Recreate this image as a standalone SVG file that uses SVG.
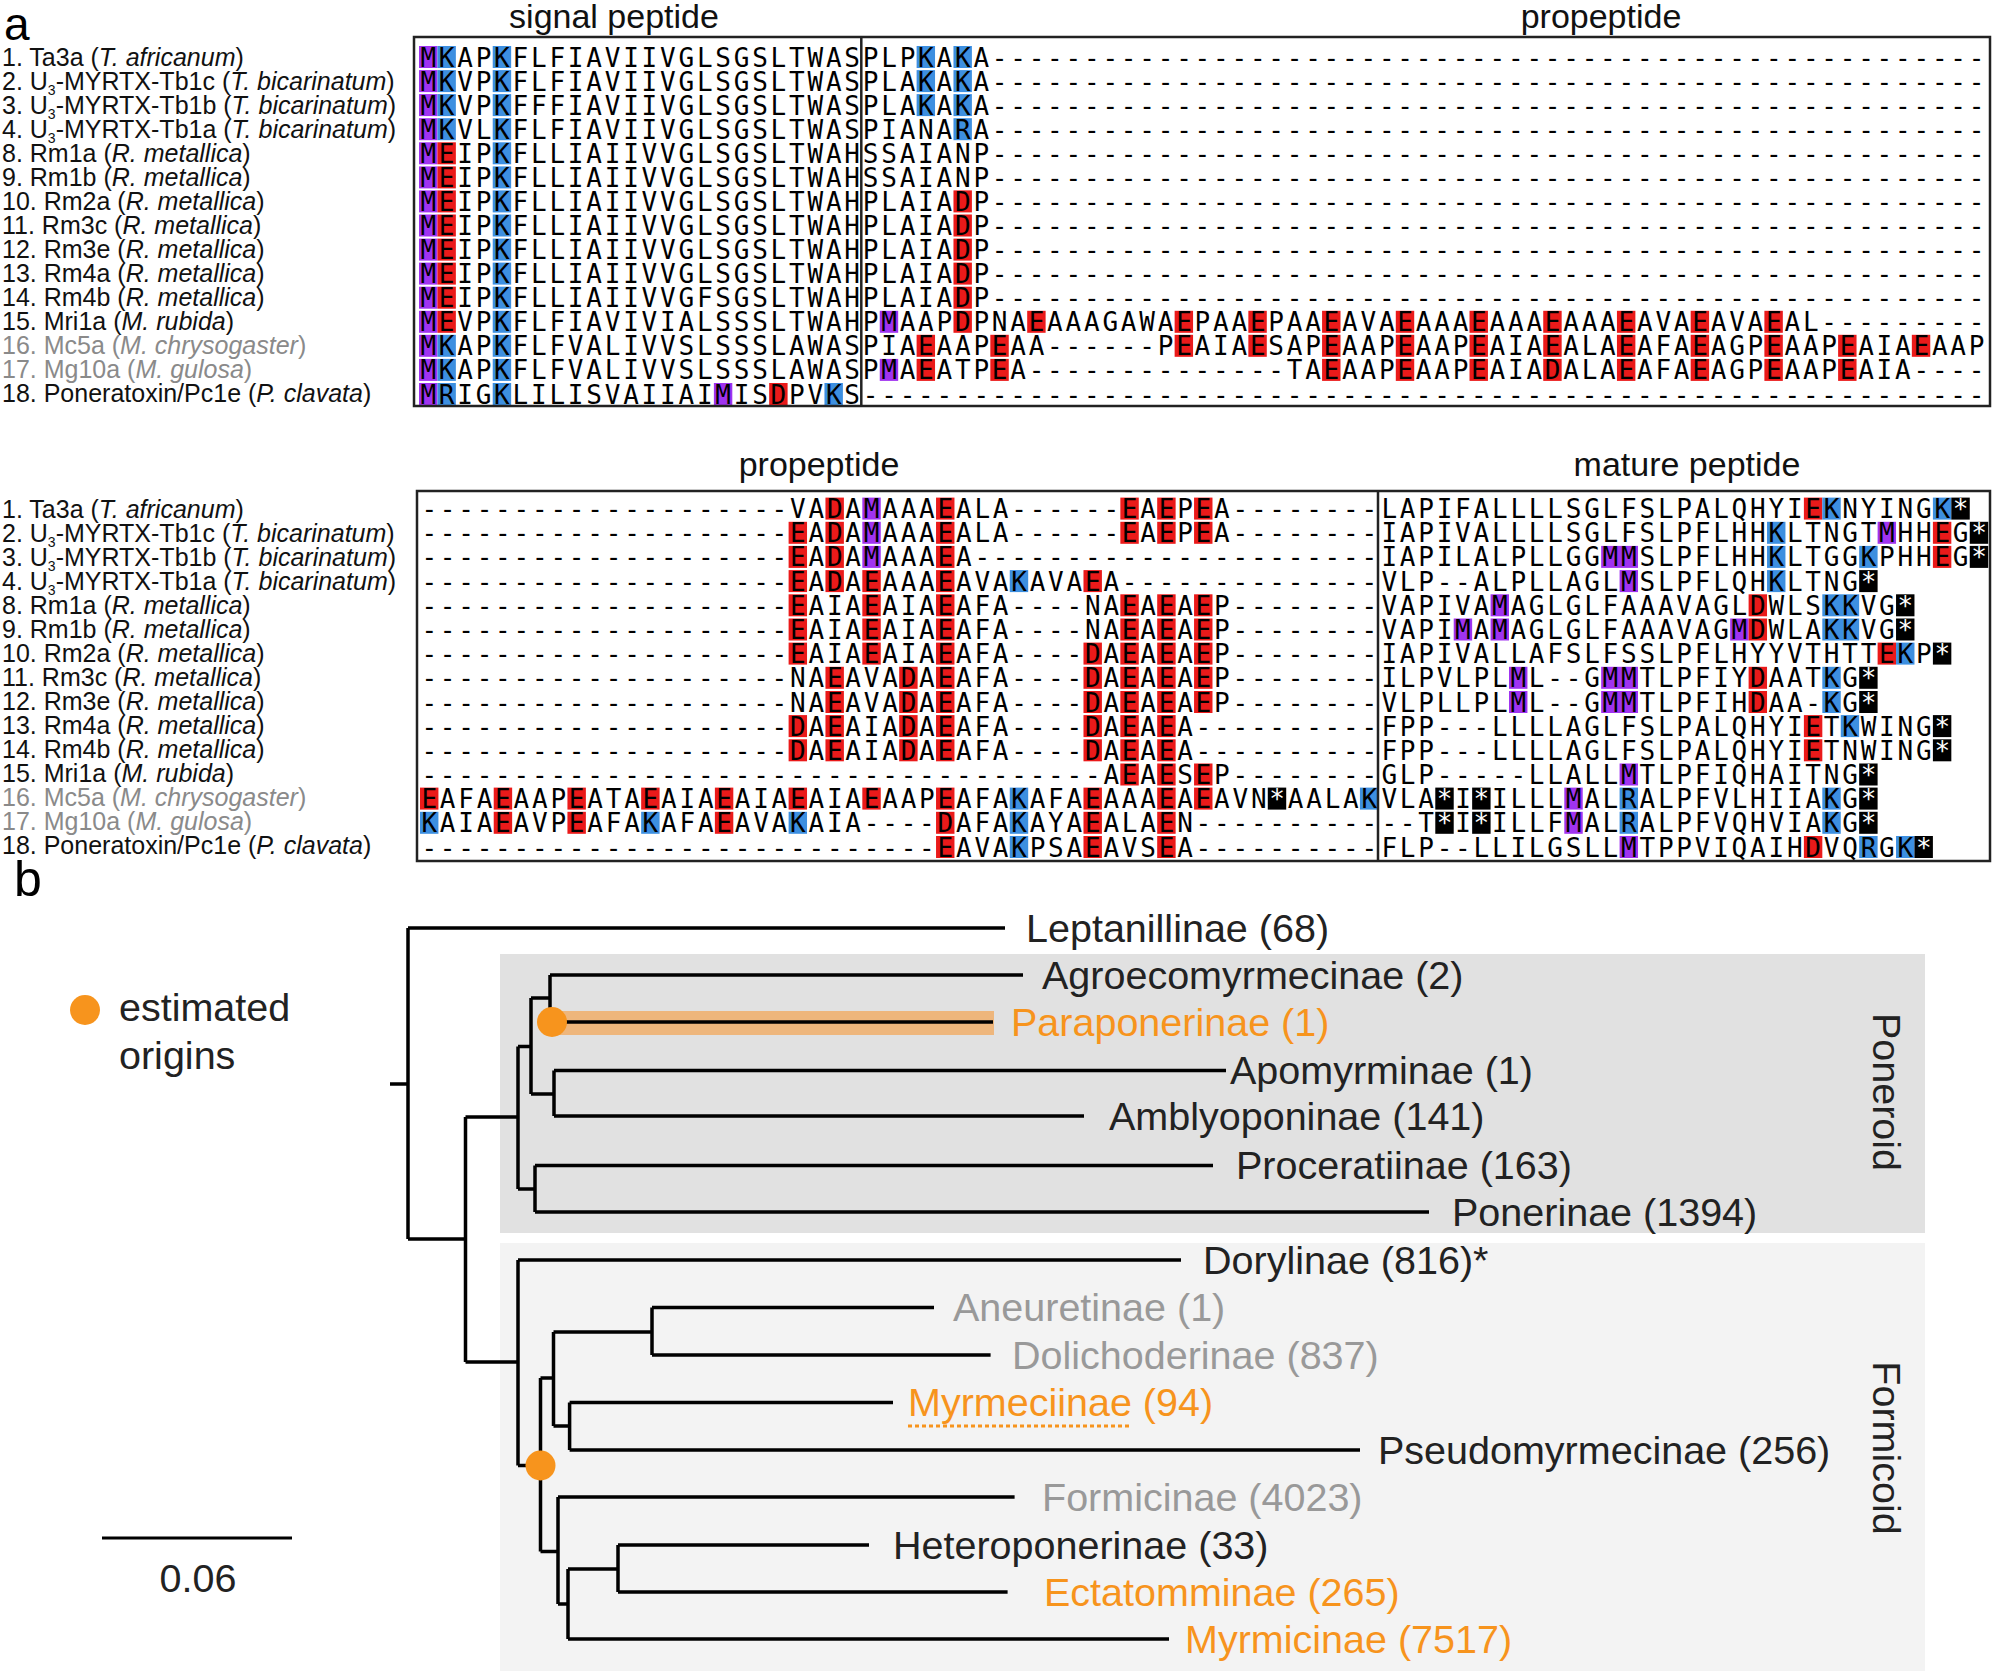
<svg xmlns="http://www.w3.org/2000/svg" width="1992" height="1671" viewBox="0 0 1992 1671">
<style>
.lab{font-family:"Liberation Sans",Arial,sans-serif;font-size:25px;fill:#111}
.gl{fill:#8a8a8a}
.hd{font-family:"Liberation Sans",Arial,sans-serif;font-size:34px;fill:#111;text-anchor:middle}
.sq{font-family:"DejaVu Sans Mono",monospace;font-size:26px;letter-spacing:2.78px;fill:#000}
.p{fill:#a033f0}.b{fill:#3d8fe0}.r{fill:#ea1a1a}.k{fill:#000}
.box{fill:none;stroke:#222;stroke-width:2.5}
.tl{font-family:"Liberation Sans",Arial,sans-serif;font-size:39.5px;fill:#222}
.gr{fill:#999}.or{fill:#f7941d}
.br{fill:none;stroke:#000;stroke-width:3.5}
</style>
<text x="4" y="40" font-family="Liberation Sans,Arial,sans-serif" font-size="46" fill="#000">a</text>
<text x="14" y="896" font-family="Liberation Sans,Arial,sans-serif" font-size="50" fill="#000">b</text>
<text class="hd" x="614" y="28">signal peptide</text>
<text class="hd" x="1601" y="28">propeptide</text>
<text class="hd" x="819" y="476">propeptide</text>
<text class="hd" x="1687" y="476">mature peptide</text>

<g id="labels-top">
<text class="lab" x="2" y="66">1. Ta3a (<tspan font-style="italic">T. africanum</tspan>)</text>
<text class="lab" x="2" y="90">2. U<tspan font-size="14" dy="5">3</tspan><tspan dy="-5">-MYRTX-Tb1c (</tspan><tspan font-style="italic">T. bicarinatum</tspan>)</text>
<text class="lab" x="2" y="114">3. U<tspan font-size="14" dy="5">3</tspan><tspan dy="-5">-MYRTX-Tb1b (</tspan><tspan font-style="italic">T. bicarinatum</tspan>)</text>
<text class="lab" x="2" y="138">4. U<tspan font-size="14" dy="5">3</tspan><tspan dy="-5">-MYRTX-Tb1a (</tspan><tspan font-style="italic">T. bicarinatum</tspan>)</text>
<text class="lab" x="2" y="162">8. Rm1a (<tspan font-style="italic">R. metallica</tspan>)</text>
<text class="lab" x="2" y="186">9. Rm1b (<tspan font-style="italic">R. metallica</tspan>)</text>
<text class="lab" x="2" y="210">10. Rm2a (<tspan font-style="italic">R. metallica</tspan>)</text>
<text class="lab" x="2" y="234">11. Rm3c (<tspan font-style="italic">R. metallica</tspan>)</text>
<text class="lab" x="2" y="258">12. Rm3e (<tspan font-style="italic">R. metallica</tspan>)</text>
<text class="lab" x="2" y="282">13. Rm4a (<tspan font-style="italic">R. metallica</tspan>)</text>
<text class="lab" x="2" y="306">14. Rm4b (<tspan font-style="italic">R. metallica</tspan>)</text>
<text class="lab" x="2" y="330">15. Mri1a (<tspan font-style="italic">M. rubida</tspan>)</text>
<text class="lab gl" x="2" y="354">16. Mc5a (<tspan font-style="italic">M. chrysogaster</tspan>)</text>
<text class="lab gl" x="2" y="378">17. Mg10a (<tspan font-style="italic">M. gulosa</tspan>)</text>
<text class="lab" x="2" y="402">18. Poneratoxin/Pc1e (<tspan font-style="italic">P. clavata</tspan>)</text>
</g>
<g id="labels-bottom">
<text class="lab" x="2" y="518">1. Ta3a (<tspan font-style="italic">T. africanum</tspan>)</text>
<text class="lab" x="2" y="542">2. U<tspan font-size="14" dy="5">3</tspan><tspan dy="-5">-MYRTX-Tb1c (</tspan><tspan font-style="italic">T. bicarinatum</tspan>)</text>
<text class="lab" x="2" y="566">3. U<tspan font-size="14" dy="5">3</tspan><tspan dy="-5">-MYRTX-Tb1b (</tspan><tspan font-style="italic">T. bicarinatum</tspan>)</text>
<text class="lab" x="2" y="590">4. U<tspan font-size="14" dy="5">3</tspan><tspan dy="-5">-MYRTX-Tb1a (</tspan><tspan font-style="italic">T. bicarinatum</tspan>)</text>
<text class="lab" x="2" y="614">8. Rm1a (<tspan font-style="italic">R. metallica</tspan>)</text>
<text class="lab" x="2" y="638">9. Rm1b (<tspan font-style="italic">R. metallica</tspan>)</text>
<text class="lab" x="2" y="662">10. Rm2a (<tspan font-style="italic">R. metallica</tspan>)</text>
<text class="lab" x="2" y="686">11. Rm3c (<tspan font-style="italic">R. metallica</tspan>)</text>
<text class="lab" x="2" y="710">12. Rm3e (<tspan font-style="italic">R. metallica</tspan>)</text>
<text class="lab" x="2" y="734">13. Rm4a (<tspan font-style="italic">R. metallica</tspan>)</text>
<text class="lab" x="2" y="758">14. Rm4b (<tspan font-style="italic">R. metallica</tspan>)</text>
<text class="lab" x="2" y="782">15. Mri1a (<tspan font-style="italic">M. rubida</tspan>)</text>
<text class="lab gl" x="2" y="806">16. Mc5a (<tspan font-style="italic">M. chrysogaster</tspan>)</text>
<text class="lab gl" x="2" y="830">17. Mg10a (<tspan font-style="italic">M. gulosa</tspan>)</text>
<text class="lab" x="2" y="854">18. Poneratoxin/Pc1e (<tspan font-style="italic">P. clavata</tspan>)</text>
</g>

<g id="hl-top">
<g transform="translate(419,57) scale(18.43,1)"><rect class="p" x="0" y="-11" width="1" height="22"/><rect class="b" x="1" y="-11" width="1" height="22"/><rect class="b" x="4" y="-11" width="1" height="22"/><rect class="b" x="27" y="-11" width="1" height="22"/><rect class="b" x="29" y="-11" width="1" height="22"/></g>
<g transform="translate(419,81.1) scale(18.43,1)"><rect class="p" x="0" y="-11" width="1" height="22"/><rect class="b" x="1" y="-11" width="1" height="22"/><rect class="b" x="4" y="-11" width="1" height="22"/><rect class="b" x="27" y="-11" width="1" height="22"/><rect class="b" x="29" y="-11" width="1" height="22"/></g>
<g transform="translate(419,105.1) scale(18.43,1)"><rect class="p" x="0" y="-11" width="1" height="22"/><rect class="b" x="1" y="-11" width="1" height="22"/><rect class="b" x="4" y="-11" width="1" height="22"/><rect class="b" x="27" y="-11" width="1" height="22"/><rect class="b" x="29" y="-11" width="1" height="22"/></g>
<g transform="translate(419,129.2) scale(18.43,1)"><rect class="p" x="0" y="-11" width="1" height="22"/><rect class="b" x="1" y="-11" width="1" height="22"/><rect class="b" x="4" y="-11" width="1" height="22"/><rect class="b" x="29" y="-11" width="1" height="22"/></g>
<g transform="translate(419,153.3) scale(18.43,1)"><rect class="p" x="0" y="-11" width="1" height="22"/><rect class="r" x="1" y="-11" width="1" height="22"/><rect class="b" x="4" y="-11" width="1" height="22"/></g>
<g transform="translate(419,177.4) scale(18.43,1)"><rect class="p" x="0" y="-11" width="1" height="22"/><rect class="r" x="1" y="-11" width="1" height="22"/><rect class="b" x="4" y="-11" width="1" height="22"/></g>
<g transform="translate(419,201.4) scale(18.43,1)"><rect class="p" x="0" y="-11" width="1" height="22"/><rect class="r" x="1" y="-11" width="1" height="22"/><rect class="b" x="4" y="-11" width="1" height="22"/><rect class="r" x="29" y="-11" width="1" height="22"/></g>
<g transform="translate(419,225.5) scale(18.43,1)"><rect class="p" x="0" y="-11" width="1" height="22"/><rect class="r" x="1" y="-11" width="1" height="22"/><rect class="b" x="4" y="-11" width="1" height="22"/><rect class="r" x="29" y="-11" width="1" height="22"/></g>
<g transform="translate(419,249.6) scale(18.43,1)"><rect class="p" x="0" y="-11" width="1" height="22"/><rect class="r" x="1" y="-11" width="1" height="22"/><rect class="b" x="4" y="-11" width="1" height="22"/><rect class="r" x="29" y="-11" width="1" height="22"/></g>
<g transform="translate(419,273.6) scale(18.43,1)"><rect class="p" x="0" y="-11" width="1" height="22"/><rect class="r" x="1" y="-11" width="1" height="22"/><rect class="b" x="4" y="-11" width="1" height="22"/><rect class="r" x="29" y="-11" width="1" height="22"/></g>
<g transform="translate(419,297.7) scale(18.43,1)"><rect class="p" x="0" y="-11" width="1" height="22"/><rect class="r" x="1" y="-11" width="1" height="22"/><rect class="b" x="4" y="-11" width="1" height="22"/><rect class="r" x="29" y="-11" width="1" height="22"/></g>
<g transform="translate(419,321.8) scale(18.43,1)"><rect class="p" x="0" y="-11" width="1" height="22"/><rect class="r" x="1" y="-11" width="1" height="22"/><rect class="b" x="4" y="-11" width="1" height="22"/><rect class="p" x="25" y="-11" width="1" height="22"/><rect class="r" x="29" y="-11" width="1" height="22"/><rect class="r" x="33" y="-11" width="1" height="22"/><rect class="r" x="41" y="-11" width="1" height="22"/><rect class="r" x="45" y="-11" width="1" height="22"/><rect class="r" x="49" y="-11" width="1" height="22"/><rect class="r" x="53" y="-11" width="1" height="22"/><rect class="r" x="57" y="-11" width="1" height="22"/><rect class="r" x="61" y="-11" width="1" height="22"/><rect class="r" x="65" y="-11" width="1" height="22"/><rect class="r" x="69" y="-11" width="1" height="22"/><rect class="r" x="73" y="-11" width="1" height="22"/></g>
<g transform="translate(419,345.8) scale(18.43,1)"><rect class="p" x="0" y="-11" width="1" height="22"/><rect class="b" x="1" y="-11" width="1" height="22"/><rect class="b" x="4" y="-11" width="1" height="22"/><rect class="r" x="27" y="-11" width="1" height="22"/><rect class="r" x="31" y="-11" width="1" height="22"/><rect class="r" x="41" y="-11" width="1" height="22"/><rect class="r" x="45" y="-11" width="1" height="22"/><rect class="r" x="49" y="-11" width="1" height="22"/><rect class="r" x="53" y="-11" width="1" height="22"/><rect class="r" x="57" y="-11" width="1" height="22"/><rect class="r" x="61" y="-11" width="1" height="22"/><rect class="r" x="65" y="-11" width="1" height="22"/><rect class="r" x="69" y="-11" width="1" height="22"/><rect class="r" x="73" y="-11" width="1" height="22"/><rect class="r" x="77" y="-11" width="1" height="22"/><rect class="r" x="81" y="-11" width="1" height="22"/></g>
<g transform="translate(419,369.9) scale(18.43,1)"><rect class="p" x="0" y="-11" width="1" height="22"/><rect class="b" x="1" y="-11" width="1" height="22"/><rect class="b" x="4" y="-11" width="1" height="22"/><rect class="p" x="25" y="-11" width="1" height="22"/><rect class="r" x="27" y="-11" width="1" height="22"/><rect class="r" x="31" y="-11" width="1" height="22"/><rect class="r" x="49" y="-11" width="1" height="22"/><rect class="r" x="53" y="-11" width="1" height="22"/><rect class="r" x="57" y="-11" width="1" height="22"/><rect class="r" x="61" y="-11" width="1" height="22"/><rect class="r" x="65" y="-11" width="1" height="22"/><rect class="r" x="69" y="-11" width="1" height="22"/><rect class="r" x="73" y="-11" width="1" height="22"/><rect class="r" x="77" y="-11" width="1" height="22"/></g>
<g transform="translate(419,394) scale(18.43,1)"><rect class="p" x="0" y="-11" width="1" height="22"/><rect class="b" x="1" y="-11" width="1" height="22"/><rect class="b" x="4" y="-11" width="1" height="22"/><rect class="p" x="16" y="-11" width="1" height="22"/><rect class="r" x="19" y="-11" width="1" height="22"/><rect class="b" x="22" y="-11" width="1" height="22"/></g>
</g>

<g id="seq-top">
<text class="sq" x="420.4" y="66.5">MKAPKFLFIAVIIVGLSGSLTWASPLPKAKA------------------------------------------------------</text>
<text class="sq" x="420.4" y="90.6">MKVPKFLFIAVIIVGLSGSLTWASPLAKAKA------------------------------------------------------</text>
<text class="sq" x="420.4" y="114.6">MKVPKFFFIAVIIVGLSGSLTWASPLAKAKA------------------------------------------------------</text>
<text class="sq" x="420.4" y="138.7">MKVLKFLFIAVIIVGLSGSLTWASPIANARA------------------------------------------------------</text>
<text class="sq" x="420.4" y="162.8">MEIPKFLLIAIIVVGLSGSLTWAHSSAIANP------------------------------------------------------</text>
<text class="sq" x="420.4" y="186.9">MEIPKFLLIAIIVVGLSGSLTWAHSSAIANP------------------------------------------------------</text>
<text class="sq" x="420.4" y="210.9">MEIPKFLLIAIIVVGLSGSLTWAHPLAIADP------------------------------------------------------</text>
<text class="sq" x="420.4" y="235">MEIPKFLLIAIIVVGLSGSLTWAHPLAIADP------------------------------------------------------</text>
<text class="sq" x="420.4" y="259.1">MEIPKFLLIAIIVVGLSGSLTWAHPLAIADP------------------------------------------------------</text>
<text class="sq" x="420.4" y="283.1">MEIPKFLLIAIIVVGLSGSLTWAHPLAIADP------------------------------------------------------</text>
<text class="sq" x="420.4" y="307.2">MEIPKFLLIAIIVVGFSGSLTWAHPLAIADP------------------------------------------------------</text>
<text class="sq" x="420.4" y="331.3">MEVPKFLFIAVIVIALSSSLTWAHPMAAPDPNAEAAAGAWAEPAAEPAAEAVAEAAAEAAAEAAAEAVAEAVAEAL---------</text>
<text class="sq" x="420.4" y="355.3">MKAPKFLFVALIVVSLSSSLAWASPIAEAAPEAA------PEAIAESAPEAAPEAAPEAIAEALAEAFAEAGPEAAPEAIAEAAP</text>
<text class="sq" x="420.4" y="379.4">MKAPKFLFVALIVVSLSSSLAWASPMAEATPEA--------------TAEAAPEAAPEAIADALAEAFAEAGPEAAPEAIA----</text>
<text class="sq" x="420.4" y="403.5">MRIGKLILISVAIIAIMISDPVKS-------------------------------------------------------------</text>
</g>
<g id="box-top"><rect class="box" x="414" y="37" width="1576" height="369"/><line class="box" x1="861.3" y1="37" x2="861.3" y2="406"/></g>

<g id="hl-bottom">
<g transform="translate(420,508.6) scale(18.43,1)"><rect class="r" x="22" y="-11" width="1" height="22"/><rect class="p" x="24" y="-11" width="1" height="22"/><rect class="r" x="28" y="-11" width="1" height="22"/><rect class="r" x="38" y="-11" width="1" height="22"/><rect class="r" x="40" y="-11" width="1" height="22"/><rect class="r" x="42" y="-11" width="1" height="22"/></g>
<g transform="translate(420,532.8) scale(18.43,1)"><rect class="r" x="20" y="-11" width="1" height="22"/><rect class="r" x="22" y="-11" width="1" height="22"/><rect class="p" x="24" y="-11" width="1" height="22"/><rect class="r" x="28" y="-11" width="1" height="22"/><rect class="r" x="38" y="-11" width="1" height="22"/><rect class="r" x="40" y="-11" width="1" height="22"/><rect class="r" x="42" y="-11" width="1" height="22"/></g>
<g transform="translate(420,556.9) scale(18.43,1)"><rect class="r" x="20" y="-11" width="1" height="22"/><rect class="r" x="22" y="-11" width="1" height="22"/><rect class="p" x="24" y="-11" width="1" height="22"/><rect class="r" x="28" y="-11" width="1" height="22"/></g>
<g transform="translate(420,581.1) scale(18.43,1)"><rect class="r" x="20" y="-11" width="1" height="22"/><rect class="r" x="22" y="-11" width="1" height="22"/><rect class="r" x="24" y="-11" width="1" height="22"/><rect class="r" x="28" y="-11" width="1" height="22"/><rect class="b" x="32" y="-11" width="1" height="22"/><rect class="r" x="36" y="-11" width="1" height="22"/></g>
<g transform="translate(420,605.3) scale(18.43,1)"><rect class="r" x="20" y="-11" width="1" height="22"/><rect class="r" x="24" y="-11" width="1" height="22"/><rect class="r" x="28" y="-11" width="1" height="22"/><rect class="r" x="38" y="-11" width="1" height="22"/><rect class="r" x="40" y="-11" width="1" height="22"/><rect class="r" x="42" y="-11" width="1" height="22"/></g>
<g transform="translate(420,629.5) scale(18.43,1)"><rect class="r" x="20" y="-11" width="1" height="22"/><rect class="r" x="24" y="-11" width="1" height="22"/><rect class="r" x="28" y="-11" width="1" height="22"/><rect class="r" x="38" y="-11" width="1" height="22"/><rect class="r" x="40" y="-11" width="1" height="22"/><rect class="r" x="42" y="-11" width="1" height="22"/></g>
<g transform="translate(420,653.6) scale(18.43,1)"><rect class="r" x="20" y="-11" width="1" height="22"/><rect class="r" x="24" y="-11" width="1" height="22"/><rect class="r" x="28" y="-11" width="1" height="22"/><rect class="r" x="36" y="-11" width="1" height="22"/><rect class="r" x="38" y="-11" width="1" height="22"/><rect class="r" x="40" y="-11" width="1" height="22"/><rect class="r" x="42" y="-11" width="1" height="22"/></g>
<g transform="translate(420,677.8) scale(18.43,1)"><rect class="r" x="22" y="-11" width="1" height="22"/><rect class="r" x="26" y="-11" width="1" height="22"/><rect class="r" x="28" y="-11" width="1" height="22"/><rect class="r" x="36" y="-11" width="1" height="22"/><rect class="r" x="38" y="-11" width="1" height="22"/><rect class="r" x="40" y="-11" width="1" height="22"/><rect class="r" x="42" y="-11" width="1" height="22"/></g>
<g transform="translate(420,702) scale(18.43,1)"><rect class="r" x="22" y="-11" width="1" height="22"/><rect class="r" x="26" y="-11" width="1" height="22"/><rect class="r" x="28" y="-11" width="1" height="22"/><rect class="r" x="36" y="-11" width="1" height="22"/><rect class="r" x="38" y="-11" width="1" height="22"/><rect class="r" x="40" y="-11" width="1" height="22"/><rect class="r" x="42" y="-11" width="1" height="22"/></g>
<g transform="translate(420,726.1) scale(18.43,1)"><rect class="r" x="20" y="-11" width="1" height="22"/><rect class="r" x="22" y="-11" width="1" height="22"/><rect class="r" x="26" y="-11" width="1" height="22"/><rect class="r" x="28" y="-11" width="1" height="22"/><rect class="r" x="36" y="-11" width="1" height="22"/><rect class="r" x="38" y="-11" width="1" height="22"/><rect class="r" x="40" y="-11" width="1" height="22"/></g>
<g transform="translate(420,750.3) scale(18.43,1)"><rect class="r" x="20" y="-11" width="1" height="22"/><rect class="r" x="22" y="-11" width="1" height="22"/><rect class="r" x="26" y="-11" width="1" height="22"/><rect class="r" x="28" y="-11" width="1" height="22"/><rect class="r" x="36" y="-11" width="1" height="22"/><rect class="r" x="38" y="-11" width="1" height="22"/><rect class="r" x="40" y="-11" width="1" height="22"/></g>
<g transform="translate(420,774.5) scale(18.43,1)"><rect class="r" x="38" y="-11" width="1" height="22"/><rect class="r" x="40" y="-11" width="1" height="22"/><rect class="r" x="42" y="-11" width="1" height="22"/></g>
<g transform="translate(420,798.6) scale(18.43,1)"><rect class="r" x="0" y="-11" width="1" height="22"/><rect class="r" x="4" y="-11" width="1" height="22"/><rect class="r" x="8" y="-11" width="1" height="22"/><rect class="r" x="12" y="-11" width="1" height="22"/><rect class="r" x="16" y="-11" width="1" height="22"/><rect class="r" x="20" y="-11" width="1" height="22"/><rect class="r" x="24" y="-11" width="1" height="22"/><rect class="r" x="28" y="-11" width="1" height="22"/><rect class="b" x="32" y="-11" width="1" height="22"/><rect class="r" x="36" y="-11" width="1" height="22"/><rect class="r" x="40" y="-11" width="1" height="22"/><rect class="r" x="42" y="-11" width="1" height="22"/><rect class="k" x="46" y="-11" width="1" height="22"/><rect class="b" x="51" y="-11" width="1" height="22"/></g>
<g transform="translate(420,822.8) scale(18.43,1)"><rect class="b" x="0" y="-11" width="1" height="22"/><rect class="r" x="4" y="-11" width="1" height="22"/><rect class="r" x="8" y="-11" width="1" height="22"/><rect class="b" x="12" y="-11" width="1" height="22"/><rect class="r" x="16" y="-11" width="1" height="22"/><rect class="b" x="20" y="-11" width="1" height="22"/><rect class="r" x="28" y="-11" width="1" height="22"/><rect class="b" x="32" y="-11" width="1" height="22"/><rect class="r" x="36" y="-11" width="1" height="22"/><rect class="r" x="40" y="-11" width="1" height="22"/></g>
<g transform="translate(420,847) scale(18.43,1)"><rect class="r" x="28" y="-11" width="1" height="22"/><rect class="b" x="32" y="-11" width="1" height="22"/><rect class="r" x="36" y="-11" width="1" height="22"/><rect class="r" x="40" y="-11" width="1" height="22"/></g>
</g>
<g id="hl-mature">
<g transform="translate(1380,508.6) scale(18.43,1)"><rect class="r" x="23" y="-11" width="1" height="22"/><rect class="b" x="24" y="-11" width="1" height="22"/><rect class="b" x="30" y="-11" width="1" height="22"/><rect class="k" x="31" y="-11" width="1" height="22"/></g>
<g transform="translate(1380,532.8) scale(18.43,1)"><rect class="b" x="21" y="-11" width="1" height="22"/><rect class="p" x="27" y="-11" width="1" height="22"/><rect class="r" x="30" y="-11" width="1" height="22"/><rect class="k" x="32" y="-11" width="1" height="22"/></g>
<g transform="translate(1380,556.9) scale(18.43,1)"><rect class="p" x="12" y="-11" width="2" height="22"/><rect class="b" x="21" y="-11" width="1" height="22"/><rect class="b" x="26" y="-11" width="1" height="22"/><rect class="r" x="30" y="-11" width="1" height="22"/><rect class="k" x="32" y="-11" width="1" height="22"/></g>
<g transform="translate(1380,581.1) scale(18.43,1)"><rect class="p" x="13" y="-11" width="1" height="22"/><rect class="b" x="21" y="-11" width="1" height="22"/><rect class="k" x="26" y="-11" width="1" height="22"/></g>
<g transform="translate(1380,605.3) scale(18.43,1)"><rect class="p" x="6" y="-11" width="1" height="22"/><rect class="r" x="20" y="-11" width="1" height="22"/><rect class="b" x="24" y="-11" width="2" height="22"/><rect class="k" x="28" y="-11" width="1" height="22"/></g>
<g transform="translate(1380,629.5) scale(18.43,1)"><rect class="p" x="4" y="-11" width="1" height="22"/><rect class="p" x="6" y="-11" width="1" height="22"/><rect class="p" x="19" y="-11" width="1" height="22"/><rect class="r" x="20" y="-11" width="1" height="22"/><rect class="b" x="24" y="-11" width="2" height="22"/><rect class="k" x="28" y="-11" width="1" height="22"/></g>
<g transform="translate(1380,653.6) scale(18.43,1)"><rect class="r" x="27" y="-11" width="1" height="22"/><rect class="b" x="28" y="-11" width="1" height="22"/><rect class="k" x="30" y="-11" width="1" height="22"/></g>
<g transform="translate(1380,677.8) scale(18.43,1)"><rect class="p" x="7" y="-11" width="1" height="22"/><rect class="p" x="12" y="-11" width="2" height="22"/><rect class="r" x="20" y="-11" width="1" height="22"/><rect class="b" x="24" y="-11" width="1" height="22"/><rect class="k" x="26" y="-11" width="1" height="22"/></g>
<g transform="translate(1380,702) scale(18.43,1)"><rect class="p" x="7" y="-11" width="1" height="22"/><rect class="p" x="12" y="-11" width="2" height="22"/><rect class="r" x="20" y="-11" width="1" height="22"/><rect class="b" x="24" y="-11" width="1" height="22"/><rect class="k" x="26" y="-11" width="1" height="22"/></g>
<g transform="translate(1380,726.1) scale(18.43,1)"><rect class="r" x="23" y="-11" width="1" height="22"/><rect class="b" x="25" y="-11" width="1" height="22"/><rect class="k" x="30" y="-11" width="1" height="22"/></g>
<g transform="translate(1380,750.3) scale(18.43,1)"><rect class="r" x="23" y="-11" width="1" height="22"/><rect class="k" x="30" y="-11" width="1" height="22"/></g>
<g transform="translate(1380,774.5) scale(18.43,1)"><rect class="p" x="13" y="-11" width="1" height="22"/><rect class="k" x="26" y="-11" width="1" height="22"/></g>
<g transform="translate(1380,798.6) scale(18.43,1)"><rect class="k" x="3" y="-11" width="1" height="22"/><rect class="k" x="5" y="-11" width="1" height="22"/><rect class="p" x="10" y="-11" width="1" height="22"/><rect class="b" x="13" y="-11" width="1" height="22"/><rect class="b" x="24" y="-11" width="1" height="22"/><rect class="k" x="26" y="-11" width="1" height="22"/></g>
<g transform="translate(1380,822.8) scale(18.43,1)"><rect class="k" x="3" y="-11" width="1" height="22"/><rect class="k" x="5" y="-11" width="1" height="22"/><rect class="p" x="10" y="-11" width="1" height="22"/><rect class="b" x="13" y="-11" width="1" height="22"/><rect class="b" x="24" y="-11" width="1" height="22"/><rect class="k" x="26" y="-11" width="1" height="22"/></g>
<g transform="translate(1380,847) scale(18.43,1)"><rect class="p" x="13" y="-11" width="1" height="22"/><rect class="r" x="23" y="-11" width="1" height="22"/><rect class="b" x="26" y="-11" width="1" height="22"/><rect class="b" x="28" y="-11" width="1" height="22"/><rect class="k" x="29" y="-11" width="1" height="22"/></g>
</g>

<g id="seq-bottom">
<text class="sq" x="421.4" y="518.1">--------------------VADAMAAAEALA------EAEPEA--------</text>
<text class="sq" x="421.4" y="542.3">--------------------EADAMAAAEALA------EAEPEA--------</text>
<text class="sq" x="421.4" y="566.4">--------------------EADAMAAAEA----------------------</text>
<text class="sq" x="421.4" y="590.6">--------------------EADAEAAAEAVAKAVAEA--------------</text>
<text class="sq" x="421.4" y="614.8">--------------------EAIAEAIAEAFA----NAEAEAEP--------</text>
<text class="sq" x="421.4" y="639">--------------------EAIAEAIAEAFA----NAEAEAEP--------</text>
<text class="sq" x="421.4" y="663.1">--------------------EAIAEAIAEAFA----DAEAEAEP--------</text>
<text class="sq" x="421.4" y="687.3">--------------------NAEAVADAEAFA----DAEAEAEP--------</text>
<text class="sq" x="421.4" y="711.5">--------------------NAEAVADAEAFA----DAEAEAEP--------</text>
<text class="sq" x="421.4" y="735.6">--------------------DAEAIADAEAFA----DAEAEA----------</text>
<text class="sq" x="421.4" y="759.8">--------------------DAEAIADAEAFA----DAEAEA----------</text>
<text class="sq" x="421.4" y="784">-------------------------------------AEAESEP--------</text>
<text class="sq" x="421.4" y="808.1">EAFAEAAPEATAEAIAEAIAEAIAEAAPEAFAKAFAEAAAEAEAVN<tspan fill="#fff">*</tspan>AALAK</text>
<text class="sq" x="421.4" y="832.3">KAIAEAVPEAFAKAFAEAVAKAIA----DAFAKAYAEALAEN----------</text>
<text class="sq" x="421.4" y="856.5">----------------------------EAVAKPSAEAVSEA----------</text>
</g>
<g id="seq-mature">
<text class="sq" x="1381.4" y="518.1">LAPIFALLLLSGLFSLPALQHYIEKNYINGK<tspan fill="#fff">*</tspan></text>
<text class="sq" x="1381.4" y="542.3">IAPIVALLLLSGLFSLPFLHHKLTNGTMHHEG<tspan fill="#fff">*</tspan></text>
<text class="sq" x="1381.4" y="566.4">IAPILALPLLGGMMSLPFLHHKLTGGKPHHEG<tspan fill="#fff">*</tspan></text>
<text class="sq" x="1381.4" y="590.6">VLP--ALPLLAGLMSLPFLQHKLTNG<tspan fill="#fff">*</tspan></text>
<text class="sq" x="1381.4" y="614.8">VAPIVAMAGLGLFAAAVAGLDWLSKKVG<tspan fill="#fff">*</tspan></text>
<text class="sq" x="1381.4" y="639">VAPIMAMAGLGLFAAAVAGMDWLAKKVG<tspan fill="#fff">*</tspan></text>
<text class="sq" x="1381.4" y="663.1">IAPIVALLAFSLFSSLPFLHYYVTHTTEKP<tspan fill="#fff">*</tspan></text>
<text class="sq" x="1381.4" y="687.3">ILPVLPLML--GMMTLPFIYDAATKG<tspan fill="#fff">*</tspan></text>
<text class="sq" x="1381.4" y="711.5">VLPLLPLML--GMMTLPFIHDAA-KG<tspan fill="#fff">*</tspan></text>
<text class="sq" x="1381.4" y="735.6">FPP---LLLLAGLFSLPALQHYIETKWING<tspan fill="#fff">*</tspan></text>
<text class="sq" x="1381.4" y="759.8">FPP---LLLLAGLFSLPALQHYIETNWING<tspan fill="#fff">*</tspan></text>
<text class="sq" x="1381.4" y="784">GLP-----LLALLMTLPFIQHAITNG<tspan fill="#fff">*</tspan></text>
<text class="sq" x="1381.4" y="808.1">VLA<tspan fill="#fff">*</tspan>I<tspan fill="#fff">*</tspan>ILLLMALRALPFVLHIIAKG<tspan fill="#fff">*</tspan></text>
<text class="sq" x="1381.4" y="832.3">--T<tspan fill="#fff">*</tspan>I<tspan fill="#fff">*</tspan>ILLFMALRALPFVQHVIAKG<tspan fill="#fff">*</tspan></text>
<text class="sq" x="1381.4" y="856.5">FLP--LLILGSLLMTPPVIQAIHDVQRGK<tspan fill="#fff">*</tspan></text>
</g>
<g id="box-bottom"><rect class="box" x="417" y="491" width="1573" height="370"/><line class="box" x1="1378" y1="491" x2="1378" y2="861"/></g>

<g id="clade-boxes">
<rect id="poneroid-box" x="500" y="954" width="1425" height="279" fill="#e1e1e1"/>
<rect id="formicoid-box" x="500" y="1243" width="1425" height="428" fill="#f3f3f3"/>
<text class="tl" transform="translate(1873,1092) rotate(90)" text-anchor="middle">Poneroid</text>
<text class="tl" transform="translate(1873,1448) rotate(90)" text-anchor="middle">Formicoid</text>
</g>
<rect x="552" y="1011" width="442" height="24" fill="#eeb67c"/>

<g id="connectors">
<path class="br" d="M390 1084H408M408 928V1239M408 928H1005M408 1239H465.5M465.5 1117V1362"/>
<path class="br" d="M465.5 1117H518M518 1046.5V1189M518 1046.5H531M531 998V1094M531 998H550M550 975V1022M550 975H1023M550 1022H993M531 1094H554M554 1070.6V1116M554 1070.6H1226M554 1116H1084M518 1189H535M535 1165.5V1212M535 1165.5H1213M535 1212H1429"/>
<path class="br" d="M465.5 1362H518M518 1260V1465.5M518 1260H1181M518 1465.5H540.5M540.5 1378V1551.5M540.5 1378H553.5M553.5 1332V1426M553.5 1332H652M652 1307.6V1355M652 1307.6H934M652 1355H990.6M553.5 1426H569.6M569.6 1402.5V1450M569.6 1402.5H893M569.6 1450H1360M540.5 1551.5H558M558 1497V1604M558 1497H1014.6M558 1604H568M568 1569V1639M568 1569H618M618 1545V1592M618 1545H869M618 1592H1007.6M568 1639H1169"/>
</g>
<circle cx="552" cy="1022" r="15" fill="#f7941d"/>
<circle cx="540.5" cy="1465.5" r="15" fill="#f7941d"/>

<g id="taxa">
<text class="tl" x="1026" y="942">Leptanillinae (68)</text>
<text class="tl" x="1042" y="989">Agroecomyrmecinae (2)</text>
<text class="tl or" x="1011" y="1036">Paraponerinae (1)</text>
<text class="tl" x="1230" y="1084">Apomyrminae (1)</text>
<text class="tl" x="1109" y="1130">Amblyoponinae (141)</text>
<text class="tl" x="1236" y="1179">Proceratiinae (163)</text>
<text class="tl" x="1452" y="1226">Ponerinae (1394)</text>
<text class="tl" x="1203" y="1274">Dorylinae (816)*</text>
<text class="tl gr" x="953" y="1321">Aneuretinae (1)</text>
<text class="tl gr" x="1012" y="1369">Dolichoderinae (837)</text>
<text class="tl or" x="908" y="1416">Myrmeciinae (94)</text>
<line x1="908" y1="1426" x2="1131" y2="1426" stroke="#f7941d" stroke-width="3" stroke-dasharray="4 3"/>
<text class="tl" x="1378" y="1464">Pseudomyrmecinae (256)</text>
<text class="tl gr" x="1042" y="1511">Formicinae (4023)</text>
<text class="tl" x="893" y="1559">Heteroponerinae (33)</text>
<text class="tl or" x="1044" y="1606">Ectatomminae (265)</text>
<text class="tl or" x="1185" y="1653">Myrmicinae (7517)</text>
</g>

<g id="legend">
<circle cx="85" cy="1010" r="15" fill="#f7941d"/>
<text class="tl" x="119" y="1021">estimated</text>
<text class="tl" x="119" y="1069">origins</text>
</g>
<g id="scale">
<line x1="102" y1="1538" x2="292" y2="1538" stroke="#000" stroke-width="3"/>
<text class="tl" x="198" y="1592" text-anchor="middle">0.06</text>
</g>
</svg>
